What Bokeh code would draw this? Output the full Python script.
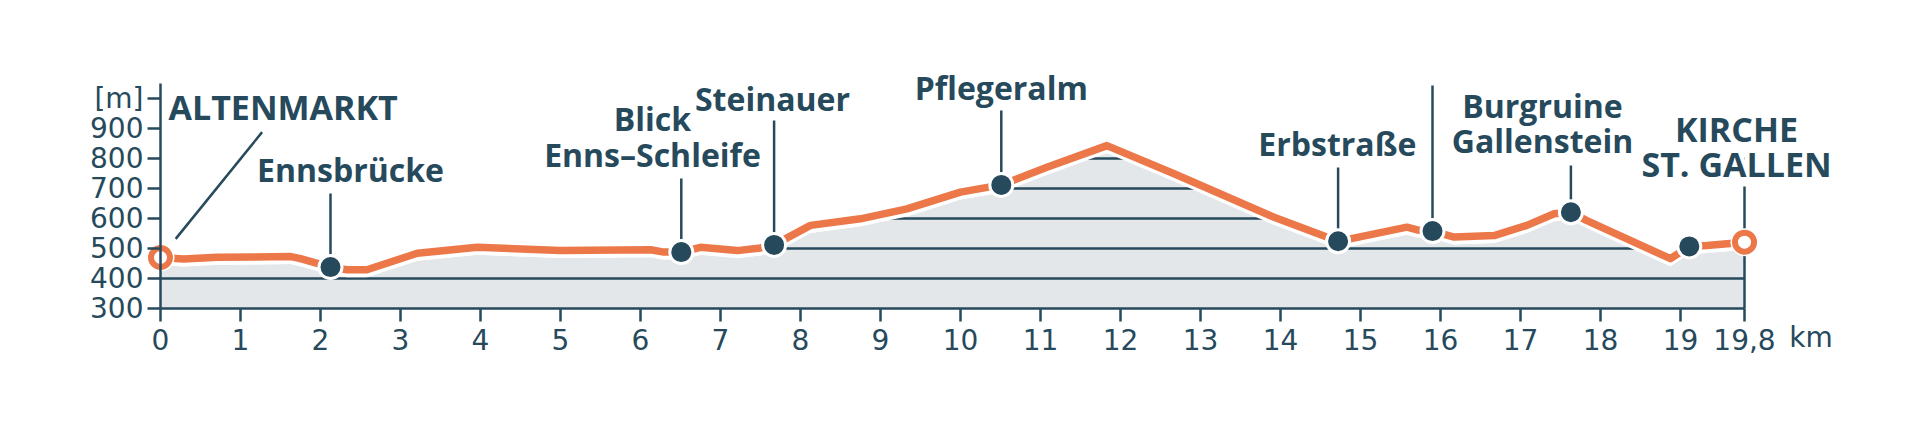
import numpy as np
from bokeh.plotting import figure
from bokeh.models import FixedTicker, Range1d
from bokeh.core.properties import value
from bokeh.embed import file_html
from bokeh.resources import INLINE

# ---------------- data ----------------
dist_km = [0, 0.29, 0.71, 1.63, 1.75, 2.125, 2.33, 2.58, 3.21, 3.96, 5.0, 6.125, 6.29,
           6.51, 6.75, 7.21, 7.5, 7.67, 8.125, 8.75, 9.33, 10.0, 10.51, 11.08, 11.83,
           12.67, 13.92, 14.72, 15.58, 15.71, 15.9, 16.17, 16.67, 17.08, 17.42, 17.63,
           17.83, 18.42, 18.875, 19.11, 19.33, 19.8]
elev_m = [470, 465, 471, 473, 466, 438, 429, 429, 484, 504, 493, 496, 488,
          488, 504, 493, 502, 512, 577, 599, 632, 688, 712, 771, 843,
          749, 604, 524, 571, 562, 558, 538, 543, 577, 616, 621,
          593, 521, 466, 507, 510, 521]

wp_km = [0, 2.125, 6.51, 7.67, 10.51, 14.72, 15.9, 17.63, 19.11, 19.8]
wp_kind = ["end", "dot", "dot", "dot", "dot", "dot", "dot", "dot", "dot", "end"]

x_ticks = [0, 1, 2, 3, 4, 5, 6, 7, 8, 9, 10, 11, 12, 13, 14, 15, 16, 17, 18, 19, 19.8]
x_tick_text = ["0", "1", "2", "3", "4", "5", "6", "7", "8", "9", "10", "11", "12", "13",
               "14", "15", "16", "17", "18", "19", "19,8"]
y_ticks = [300, 400, 500, 600, 700, 800, 900, 1000]
y_tick_text = ["300", "400", "500", "600", "700", "800", "900", "[m]"]
grid_levels = [400, 500, 600, 700, 800]
x_unit = "km"

# ---------------- layout (positions of annotations) ----------------
# (text, x, baseline-y, align, size)
label_lines = [
    ("ALTENMARKT", 0.1, 973, "left", "34px"),
    ("Ennsbrücke", 2.375, 763, "center", "32px"),
    ("Blick", 6.15, 933, "center", "32px"),
    ("Enns–Schleife", 6.15, 813, "center", "32px"),
    ("Steinauer", 7.65, 1000, "center", "32px"),
    ("Pflegeralm", 10.51, 1036, "center", "32px"),
    ("Erbstraße", 14.71, 850, "center", "32px"),
    ("Burgruine", 17.275, 977, "center", "32px"),
    ("Gallenstein", 17.275, 860, "center", "32px"),
    ("KIRCHE", 19.7, 900, "center", "34px"),
    ("ST. GALLEN", 19.7, 783, "center", "34px"),
]
leader_top = {1: 683, 2: 733, 3: 927, 4: 960, 5: 770, 6: 1043, 7: 777, 9: 707}
diag_leader = (1.27, 888, 0.19, 532)
unit_pos = (20.36, 203)

DARK = "#264a5c"
ORANGE = "#ec7849"
GRAY = "#e4e7ea"
FILL_OFFSET = 25
TICK_FONT = "DejaVu Sans"
LABEL_FONT = "Open Sans"

d = np.array(dist_km, dtype=float)
e = np.array(elev_m, dtype=float)
fill_top = e - FILL_OFFSET
wp_elev = np.interp(wp_km, d, e)

p = figure(width=1904, height=410, output_backend="svg", toolbar_location=None,
           x_range=Range1d(-2.0, 21.8), y_range=Range1d(-40, 1326.67),
           min_border_left=0, min_border_right=0, min_border_top=0, min_border_bottom=0)
p.outline_line_color = None
p.xgrid.visible = False
p.ygrid.visible = False
p.background_fill_color = "white"

p.varea(x=d, y1=300, y2=fill_top, fill_color=GRAY)
p.segment(x0=[0] * len(grid_levels), x1=[dist_km[-1]] * len(grid_levels),
          y0=grid_levels, y1=grid_levels, line_color=DARK, line_width=2.5)
p.varea(x=d, y1=fill_top, y2=1326, fill_color="white")
p.segment(x0=[d[-1]], x1=[d[-1]], y0=[300], y1=[fill_top[-1]], line_color=DARK, line_width=2.5)

lx = [wp_km[i] for i in leader_top]
p.segment(x0=lx, x1=lx, y0=[leader_top[i] for i in leader_top],
          y1=[wp_elev[i] for i in leader_top], line_color=DARK, line_width=2.5)
p.segment(x0=[diag_leader[0]], y0=[diag_leader[1]], x1=[diag_leader[2]], y1=[diag_leader[3]],
          line_color=DARK, line_width=2.5)

p.line(d, e, line_color=ORANGE, line_width=7.5, line_join="round", line_cap="round")

dots = [i for i, k in enumerate(wp_kind) if k == "dot"]
ends = [i for i, k in enumerate(wp_kind) if k == "end"]
p.scatter([wp_km[i] for i in dots], [wp_elev[i] for i in dots], size=23,
          fill_color=DARK, line_color="white", line_width=3)
p.scatter([wp_km[i] for i in ends], [wp_elev[i] for i in ends], size=28,
          fill_color="white", line_color="white", line_width=0)
p.scatter([wp_km[i] for i in ends], [wp_elev[i] for i in ends], size=19,
          fill_color="white", line_color=ORANGE, line_width=6)

for r in label_lines:
    p.text(x=[r[1]], y=[r[2]], text=[r[0]],
           text_font=value(LABEL_FONT), text_font_style="bold", text_font_size=r[4],
           text_color=DARK, text_align=r[3], text_baseline="alphabetic")

p.text(x=[unit_pos[0]], y=[unit_pos[1]], text=[x_unit], text_font=value(TICK_FONT),
       text_font_size="28px", text_color=DARK, text_align="left", text_baseline="alphabetic")

for ax in (p.xaxis[0], p.yaxis[0]):
    ax.axis_line_color = DARK
    ax.axis_line_width = 2.5
    ax.major_tick_line_color = DARK
    ax.major_tick_line_width = 2.5
    ax.major_tick_out = 13
    ax.major_tick_in = 0
    ax.minor_tick_line_color = None
    ax.major_label_text_font = TICK_FONT
    ax.major_label_text_font_size = "28px"
    ax.major_label_text_color = DARK

p.xaxis[0].major_label_standoff = 7
p.xaxis[0].fixed_location = 300
p.xaxis[0].ticker = FixedTicker(ticks=x_ticks)
p.xaxis[0].major_label_overrides = {t: s for t, s in zip(x_ticks, x_tick_text)}
p.xaxis[0].bounds = (0, dist_km[-1])
p.yaxis[0].fixed_location = 0
p.yaxis[0].ticker = FixedTicker(ticks=y_ticks)
p.yaxis[0].major_label_overrides = {t: s for t, s in zip(y_ticks, y_tick_text)}
p.yaxis[0].bounds = (300, 1050)
p.yaxis[0].major_label_standoff = 4

open("out.html", "w").write(file_html(p, INLINE))
